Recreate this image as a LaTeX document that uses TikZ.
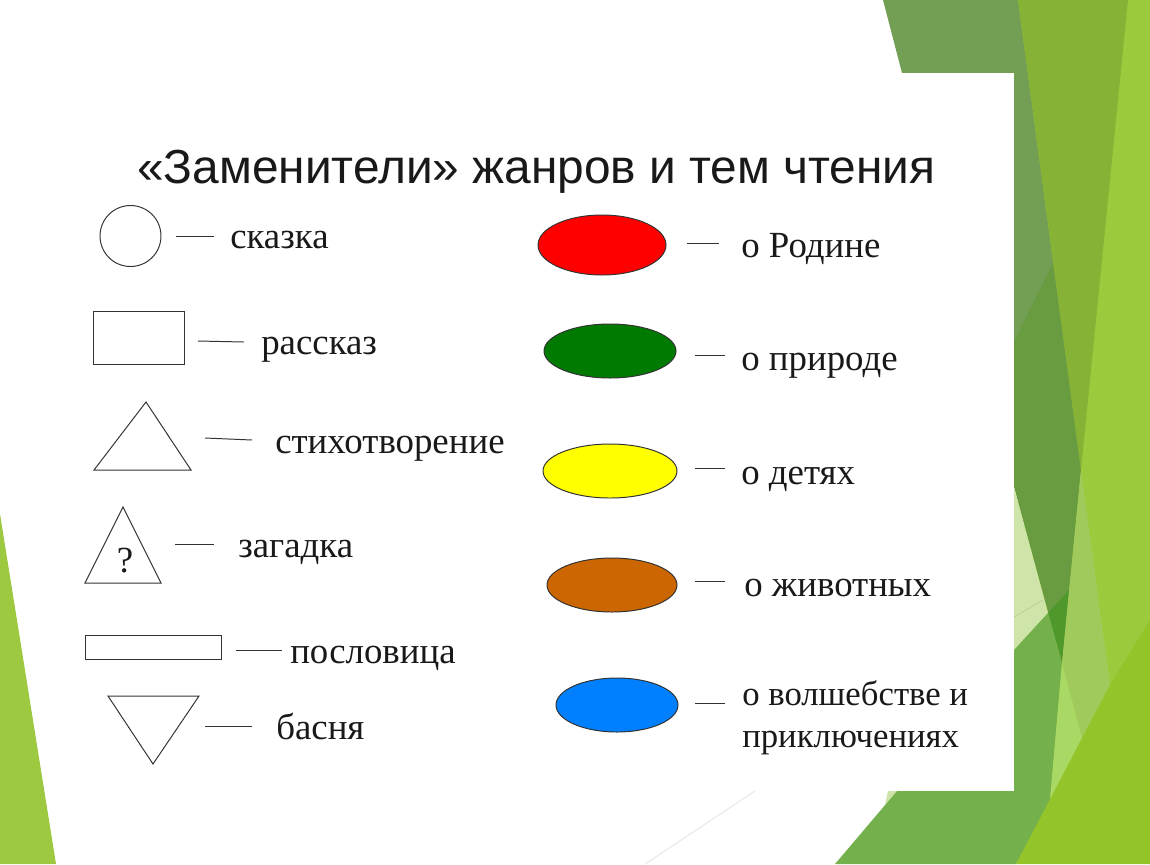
\documentclass[tikz,border=0pt]{standalone}
\usepackage{fontspec}
\setmainfont{Liberation Serif}
\newfontfamily\titlefont{Liberation Sans}
\usepackage{tikz}

\definecolor{topdark}{HTML}{739F55}
\definecolor{middark}{HTML}{699B40}
\definecolor{band}{HTML}{86B336}
\definecolor{brightgreen}{HTML}{9BCB3D}
\definecolor{lowgreen}{HTML}{93C42A}
\definecolor{midgreen}{HTML}{74B04B}
\definecolor{deepgreen}{HTML}{4F982B}
\definecolor{palegreen}{HTML}{CFE4A9}
\definecolor{softgreen}{HTML}{A0CB5C}
\definecolor{sliver}{HTML}{AAD865}
\definecolor{leftgreen}{HTML}{9CC93F}
\definecolor{redfill}{rgb}{1,0,0}
\definecolor{greenfill}{HTML}{007A00}
\definecolor{yellowfill}{rgb}{1,1,0}
\definecolor{brownfill}{HTML}{CC6600}
\definecolor{bluefill}{HTML}{0080FF}

\tikzset{
  figline/.style={draw=black!80,line width=.7pt},
  dashline/.style={draw=black!80,line width=.7pt},
  lbl/.style={anchor=base west,inner sep=0pt,text=black!90,font=\fontsize{26.2}{26.2}\selectfont},
  lblsmall/.style={lbl,font=\fontsize{24.7}{24.7}\selectfont},
}

\begin{document}
\begin{tikzpicture}[x=.025cm,y=-.025cm]
      \useasboundingbox (0,0) rectangle (1150,864);
      \fill[white] (0,0) rectangle (1150,864);

      % green shapes behind the white panel
      \fill[leftgreen] (0,514) -- (0,864) -- (56,864) -- cycle;
      \draw[black!10,line width=.6pt] (755,791) -- (645,864);
      \fill[brightgreen] (1018,0) rectangle (1150,864);
      \fill[topdark] (883,0) -- (1018,0) -- (1081,470) -- (1014,487) -- (1014,300) -- (902,73) -- cycle;
      \fill[middark] (1014,342) -- (1053,263) -- (1081,470) -- (1062,663) -- (1014,487) -- cycle;
      \fill[band] (1018,0) -- (1128,0) -- (1081,470) -- cycle;
      \fill[palegreen] (1014,487) -- (1048,613) -- (1014,650) -- cycle;
      \draw[black!10!palegreen,line width=.5pt] (1014,617) -- (1043,600);
      \fill[deepgreen] (1048,613) -- (1069,590) -- (1062,663) -- cycle;
      \fill[palegreen] (888,791) -- (897,791) -- (885,805) -- cycle;
      \fill[midgreen] (1014,650) -- (1048,613) -- (1062,663) -- (1050,800) -- (1016,864) -- (835,864) -- (897,791) -- (1014,791) -- cycle;
      \fill[softgreen] (1081,470) -- (1110,685) -- (1082,738) -- (1062,663) -- cycle;
      \fill[sliver] (1062,663) -- (1082,738) -- (1050,800) -- cycle;
      \fill[lowgreen] (1150,620) -- (1110,685) -- (1016,864) -- (1150,864) -- cycle;
      \fill[white] (800,73) rectangle (1014,791);

      \node[anchor=base west,inner sep=0pt,text=black!90,font=\titlefont\fontsize{34}{34}\selectfont] (title) at (137,183) {«Заменители» жанров и тем чтения};

      % left column
      \draw[figline] (130.5,236) circle (30.5);
      \coordinate (skazkaA) at (176,236);
      \coordinate (skazkaB) at (214,236);
      \draw[dashline] (skazkaA) -- (skazkaB);
      \node[lbl] (skazka) at (230,248.5) {сказка};

      \draw[figline] (93,311) rectangle (184,364);
      \coordinate (rasskazA) at (198,341);
      \coordinate (rasskazB) at (244,342);
      \draw[dashline] (rasskazA) -- (rasskazB);
      \node[lbl] (rasskaz) at (261,354) {рассказ};

      \draw[figline] (94,470) -- (146,402) -- (191,470) -- cycle;
      \coordinate (stihA) at (205,438);
      \coordinate (stihB) at (252,440);
      \draw[dashline] (stihA) -- (stihB);
      \node[lbl] (stih) at (275,453) {стихотворение};

      \draw[figline] (85,583) -- (123,507) -- (161,583) -- cycle;
      \node[inner sep=0pt,text=black!90,font=\fontsize{26.2}{26.2}\selectfont] (vopros) at (125,561) {?};
      \coordinate (zagadkaA) at (175,544);
      \coordinate (zagadkaB) at (214,544);
      \draw[dashline] (zagadkaA) -- (zagadkaB);
      \node[lbl] (zagadka) at (238,557) {загадка};

      \draw[figline] (85,635) rectangle (221,659);
      \coordinate (poslA) at (236,650);
      \coordinate (poslB) at (282,650);
      \draw[dashline] (poslA) -- (poslB);
      \node[lbl] (posl) at (290,663) {пословица};

      \draw[figline] (108,696) -- (199,696) -- (153,764) -- cycle;
      \coordinate (basnyaA) at (205,726);
      \coordinate (basnyaB) at (252,726);
      \draw[dashline] (basnyaA) -- (basnyaB);
      \node[lbl] (basnya) at (276,739) {басня};

      % right column
      \draw[figline,fill=redfill] (602,245) ellipse [x radius=64,y radius=30];
      \coordinate (rodinaA) at (687,243);
      \coordinate (rodinaB) at (719,243);
      \draw[dashline] (rodinaA) -- (rodinaB);
      \node[lbl] (rodina) at (741,257) {о Родине};

      \draw[figline,fill=greenfill] (610,351) ellipse [x radius=66,y radius=27];
      \coordinate (prirodaA) at (695,355);
      \coordinate (prirodaB) at (725,355);
      \draw[dashline] (prirodaA) -- (prirodaB);
      \node[lbl] (priroda) at (741,370) {о природе};

      \draw[figline,fill=yellowfill] (610,471) ellipse [x radius=67,y radius=27];
      \coordinate (detiA) at (695,468);
      \coordinate (detiB) at (725,468);
      \draw[dashline] (detiA) -- (detiB);
      \node[lbl] (deti) at (741,484) {о детях};

      \draw[figline,fill=brownfill] (612,585) ellipse [x radius=65,y radius=27];
      \coordinate (zhivA) at (695,581);
      \coordinate (zhivB) at (725,581);
      \draw[dashline] (zhivA) -- (zhivB);
      \node[lbl] (zhiv) at (744,596) {о животных};

      \draw[figline,fill=bluefill] (617,705) ellipse [x radius=61,y radius=27];
      \coordinate (volshA) at (695,703);
      \coordinate (volshB) at (725,703);
      \draw[dashline] (volshA) -- (volshB);
      \node[lblsmall] (volsh) at (742,705.5) {о волшебстве и};
      \node[lblsmall] (prikl) at (742,747) {приключениях};
\end{tikzpicture}
\end{document}
